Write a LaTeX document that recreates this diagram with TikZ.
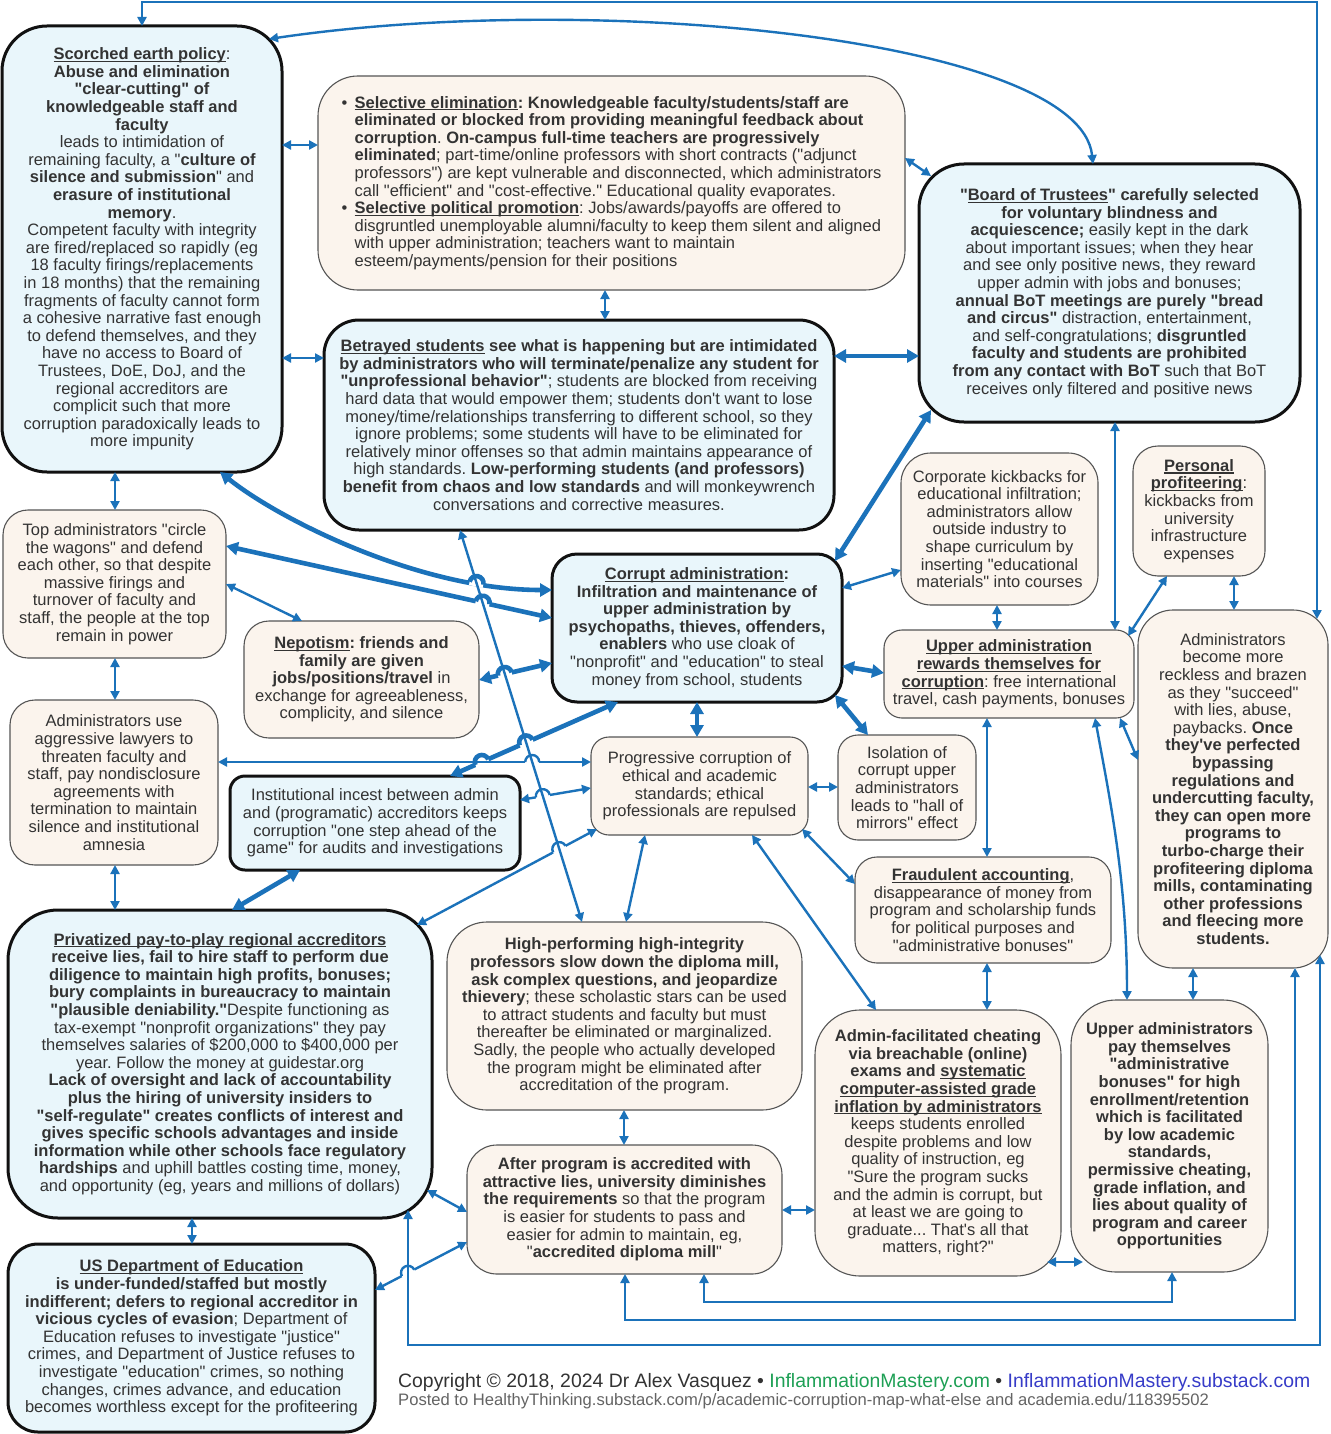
\documentclass[tikz,border=0pt]{standalone}
\usepackage{fontspec}
\setmainfont{Liberation Sans}[Ligatures=TeXOff]
\usetikzlibrary{arrows.meta,calc,intersections}
\frenchspacing
\definecolor{bluefill}{RGB}{233,246,251}
\definecolor{peachfill}{RGB}{251,244,237}
\definecolor{bordk}{RGB}{17,17,17}
\definecolor{bordg}{RGB}{85,85,85}
\definecolor{txtcol}{RGB}{51,51,51}
\definecolor{arrowc}{RGB}{27,114,186}
\definecolor{greenc}{RGB}{30,160,85}
\definecolor{bluec}{RGB}{55,60,200}
\definecolor{graytwo}{RGB}{100,100,100}
\newcommand\uln[1]{\setbox0=\hbox{#1}\rlap{\rule[-2.3pt]{\wd0}{1.2pt}}\box0\relax}
% hop helpers: #1 point, #2 angle of crossing line, #3 line width, #4 white width
\newcommand\hoppatch[4]{\draw[white, line width=#4] ($(#1)+(#2+180:7)$) -- ($(#1)+(#2:7)$);}
\newcommand\hoparc[3]{\draw[arrowc, line width=#3] ($(#1)+(#2+180:7)$) arc[start angle=#2+180, delta angle=180, radius=7];}
\begin{document}
\frenchspacing
\begin{tikzpicture}[x=1pt,y=-1pt,
  base/.style={text=txtcol, font=\fontsize{16.5}{17.6}\selectfont\frenchspacing, align=center, inner sep=0pt, outer sep=0pt},
  bbox/.style={base, fill=bluefill, draw=bordk, line width=3pt},
  pbox/.style={base, fill=peachfill, draw=bordg, line width=1.1pt},
  con/.style={draw=arrowc, line width=2.4pt, >={Triangle[length=9pt,width=9pt]}, <->},
  thk/.style={draw=arrowc, line width=4.6pt, >={Triangle[length=12pt,width=13pt]}, <->},
  sz/.style 2 args={minimum width=#1pt, minimum height=#2pt}
]
\useasboundingbox (0,0) rectangle (1330,1434);
\fill[white] (0,0) rectangle (1330,1434);

% ---------------- nodes ----------------
\node[bbox, rounded corners=45pt, sz={280}{446}] (SE) at (142,249) {%
\textbf{\uln{Scorched earth policy}}:\\
\textbf{Abuse and elimination}\\
\textbf{"clear-cutting" of}\\
\textbf{knowledgeable staff and}\\
\textbf{faculty}\\
leads to intimidation of\\
remaining faculty, a "\textbf{culture of}\\
\textbf{silence and submission}" and\\
\textbf{erasure of institutional}\\
\textbf{memory}.\\
Competent faculty with integrity\\
are fired/replaced so rapidly (eg\\
18 faculty firings/replacements\\
in 18 months) that the remaining\\
fragments of faculty cannot form\\
a cohesive narrative fast enough\\
to defend themselves, and they\\
have no access to Board of\\
Trustees, DoE, DoJ, and the\\
regional accreditors are\\
complicit such that more\\
corruption paradoxically leads to\\
more impunity};

\node[pbox, rounded corners=40pt, sz={587}{214}, align=left] (SEL) at (611.5,183) {%
\makebox[13pt][l]{\textbullet}\textbf{\uln{Selective elimination}: Knowledgeable faculty/students/staff are}\\
\hspace*{13pt}\textbf{eliminated or blocked from providing meaningful feedback about}\\
\hspace*{13pt}\textbf{corruption}. \textbf{On-campus full-time teachers are progressively}\\
\hspace*{13pt}\textbf{eliminated}; part-time/online professors with short contracts ("adjunct\\
\hspace*{13pt}professors") are kept vulnerable and disconnected, which administrators\\
\hspace*{13pt}call "efficient" and "cost-effective." Educational quality evaporates.\\
\makebox[13pt][l]{\textbullet}\textbf{\uln{Selective political promotion}}: Jobs/awards/payoffs are offered to\\
\hspace*{13pt}disgruntled unemployable alumni/faculty to keep them silent and aligned\\
\hspace*{13pt}with upper administration; teachers want to maintain\\
\hspace*{13pt}esteem/payments/pension for their positions};

\node[bbox, rounded corners=45pt, sz={381}{258}] (BOT) at (1109.5,293) {%
\textbf{"\uln{Board of Trustees}" carefully selected}\\
\textbf{for voluntary blindness and}\\
\textbf{acquiescence;} easily kept in the dark\\
about important issues; when they hear\\
and see only positive news, they reward\\
upper admin with jobs and bonuses;\\
\textbf{annual BoT meetings are purely "bread}\\
\textbf{and circus"} distraction, entertainment,\\
and self-congratulations; \textbf{disgruntled}\\
\textbf{faculty and students are prohibited}\\
\textbf{from any contact with BoT} such that BoT\\
receives only filtered and positive news};

\node[bbox, rounded corners=35pt, sz={510}{210}] (BET) at (579,425) {%
\textbf{\uln{Betrayed students} see what is happening but are intimidated}\\
\textbf{by administrators who will terminate/penalize any student for}\\
\textbf{"unprofessional behavior"}; students are blocked from receiving\\
hard data that would empower them; students don't want to lose\\
money/time/relationships transferring to different school, so they\\
ignore problems; some students will have to be eliminated for\\
relatively minor offenses so that admin maintains appearance of\\
high standards. \textbf{Low-performing students (and professors)}\\
\textbf{benefit from chaos and low standards} and will monkeywrench\\
conversations and corrective measures.};

\node[pbox, rounded corners=30pt, sz={197}{152}] (CORP) at (999.5,529) {%
Corporate kickbacks for\\
educational infiltration;\\
administrators allow\\
outside industry to\\
shape curriculum by\\
inserting "educational\\
materials" into courses};

\node[pbox, rounded corners=25pt, sz={132}{130}] (PERS) at (1199,511) {%
\textbf{\uln{Personal}}\\
\textbf{\uln{profiteering}}:\\
kickbacks from\\
university\\
infrastructure\\
expenses};

\node[pbox, rounded corners=25pt, sz={223}{148}] (TOP) at (114.5,584) {%
Top administrators "circle\\
the wagons" and defend\\
each other, so that despite\\
massive firings and\\
turnover of faculty and\\
staff, the people at the top\\
remain in power};

\node[pbox, rounded corners=25pt, sz={235}{117}] (NEP) at (361.5,679.5) {%
\textbf{\uln{Nepotism}: friends and}\\
\textbf{family are given}\\
\textbf{jobs/positions/travel} in\\
exchange for agreeableness,\\
complicity, and silence};

\node[bbox, rounded corners=25pt, sz={290}{148}] (CA) at (697,628) {%
\textbf{\uln{Corrupt administration}:}\\
\textbf{Infiltration and maintenance of}\\
\textbf{upper administration by}\\
\textbf{psychopaths, thieves, offenders,}\\
\textbf{enablers} who use cloak of\\
"nonprofit" and "education" to steal\\
money from school, students};

\node[pbox, rounded corners=18pt, sz={250}{88}] (UAR) at (1009,674) {%
\textbf{\uln{Upper administration}}\\
\textbf{\uln{rewards themselves for}}\\
\textbf{\uln{corruption}}: free international\\
travel, cash payments, bonuses};

\node[pbox, rounded corners=35pt, sz={190}{358}] (REC) at (1233,789) {%
Administrators\\
become more\\
reckless and brazen\\
as they "succeed"\\
with lies, abuse,\\
paybacks. \textbf{Once}\\
\textbf{they've perfected}\\
\textbf{bypassing}\\
\textbf{regulations and}\\
\textbf{undercutting faculty,}\\
\textbf{they can open more}\\
\textbf{programs to}\\
\textbf{turbo-charge their}\\
\textbf{profiteering diploma}\\
\textbf{mills, contaminating}\\
\textbf{other professions}\\
\textbf{and fleecing more}\\
\textbf{students.}};

\node[pbox, rounded corners=25pt, sz={208}{165}] (LAW) at (114,782.5) {%
Administrators use\\
aggressive lawyers to\\
threaten faculty and\\
staff, pay nondisclosure\\
agreements with\\
termination to maintain\\
silence and institutional\\
amnesia};

\node[bbox, rounded corners=15pt, sz={290}{94}] (INC) at (375,823) {%
Institutional incest between admin\\
and (programatic) accreditors keeps\\
corruption "one step ahead of the\\
game" for audits and investigations};

\node[pbox, rounded corners=18pt, sz={217}{98}] (PROG) at (699.5,786) {%
Progressive corruption of\\
ethical and academic\\
standards; ethical\\
professionals are repulsed};

\node[pbox, rounded corners=20pt, sz={138}{105}] (ISO) at (907,787.5) {%
Isolation of\\
corrupt upper\\
administrators\\
leads to "hall of\\
mirrors" effect};

\node[pbox, rounded corners=22pt, sz={256}{106}] (FRAUD) at (983,910) {%
\textbf{\uln{Fraudulent accounting}},\\
disappearance of money from\\
program and scholarship funds\\
for political purposes and\\
"administrative bonuses"};

\node[bbox, rounded corners=50pt, sz={424}{308}] (PRIV) at (220,1064) {%
\textbf{\uln{Privatized pay-to-play regional accreditors}}\\
\textbf{receive lies, fail to hire staff to perform due}\\
\textbf{diligence to maintain high profits, bonuses;}\\
\textbf{bury complaints in bureaucracy to maintain}\\
\textbf{"plausible deniability."}Despite functioning as\\
tax-exempt "nonprofit organizations" they pay\\
themselves salaries of \$200,000 to \$400,000 per\\
year. Follow the money at guidestar.org\\
\textbf{Lack of oversight and lack of accountability}\\
\textbf{plus the hiring of university insiders to}\\
\textbf{"self-regulate" creates conflicts of interest and}\\
\textbf{gives specific schools advantages and inside}\\
\textbf{information while other schools face regulatory}\\
\textbf{hardships} and uphill battles costing time, money,\\
and opportunity (eg, years and millions of dollars)};

\node[pbox, rounded corners=40pt, sz={355}{188}] (HIGH) at (624.5,1016) {%
\textbf{High-performing high-integrity}\\
\textbf{professors slow down the diploma mill,}\\
\textbf{ask complex questions, and jeopardize}\\
\textbf{thievery}; these scholastic stars can be used\\
to attract students and faculty but must\\
thereafter be eliminated or marginalized.\\
Sadly, the people who actually developed\\
the program might be eliminated after\\
accreditation of the program.};

\node[pbox, rounded corners=45pt, sz={246}{266}] (CHEAT) at (938,1143) {%
\textbf{Admin-facilitated cheating}\\
\textbf{via breachable (online)}\\
\textbf{exams and \uln{systematic}}\\
\textbf{\uln{computer-assisted grade}}\\
\textbf{\uln{inflation by administrators}}\\
keeps students enrolled\\
despite problems and low\\
quality of instruction, eg\\
"Sure the program sucks\\
and the admin is corrupt, but\\
at least we are going to\\
graduate... That's all that\\
matters, right?"};

\node[pbox, rounded corners=45pt, sz={197}{272}] (PAY) at (1169.5,1136) {%
\textbf{Upper administrators}\\
\textbf{pay themselves}\\
\textbf{"administrative}\\
\textbf{bonuses" for high}\\
\textbf{enrollment/retention}\\
\textbf{which is facilitated}\\
\textbf{by low academic}\\
\textbf{standards,}\\
\textbf{permissive cheating,}\\
\textbf{grade inflation, and}\\
\textbf{lies about quality of}\\
\textbf{program and career}\\
\textbf{opportunities}};

\node[pbox, rounded corners=30pt, sz={315}{129}] (AFTER) at (624.5,1209.5) {%
\textbf{After program is accredited with}\\
\textbf{attractive lies, university diminishes}\\
\textbf{the requirements} so that the program\\
is easier for students to pass and\\
easier for admin to maintain, eg,\\
"\textbf{accredited diploma mill}"};

\node[bbox, rounded corners=30pt, sz={367}{188}] (DOE) at (191.5,1338) {%
\textbf{\uln{US Department of Education}}\\
\textbf{is under-funded/staffed but mostly}\\
\textbf{indifferent; defers to regional accreditor in}\\
\textbf{vicious cycles of evasion}; Department of\\
Education refuses to investigate "justice"\\
crimes, and Department of Justice refuses to\\
investigate "education" crimes, so nothing\\
changes, crimes advance, and education\\
becomes worthless except for the profiteering};

\node[anchor=base west, inner sep=0pt, text=txtcol, font=\fontsize{19.4}{22}\selectfont] (copy) at (398,1387)
 {Copyright © 2018, 2024 Dr Alex Vasquez • \textcolor{greenc}{InflammationMastery.com} • \textcolor{bluec}{InflammationMastery.substack.com}};
\node[anchor=base west, inner sep=0pt, text=graytwo, font=\fontsize{16.6}{19}\selectfont] (posted) at (398,1405)
 {Posted to HealthyThinking.substack.com/p/academic-corruption-map-what-else and academia.edu/118395502};

% ---------------- connectors ----------------
% loops
\draw[con] (142,0 |- SE.north) |- (1317,2) -- ([shift={(-11,9)}]REC.north east);
\draw[con] ([shift={(-13,13)}]SE.north east) .. controls (600,-10) and (1080,40) .. (1093,0 |- BOT.north);
\draw[con] (704,0 |- AFTER.south) |- (1172,1302) -- (1172,0 |- PAY.south);
\draw[con] (625,0 |- AFTER.south) |- (1295,1320) -- (1295,0 |- REC.south);

% top area
\draw[con] (SE.east |- 0,145) -- (SEL.west |- 0,145);
\draw[con] (SE.east |- 0,358) -- (BET.west |- 0,358);
\draw[con] (605,0 |- SEL.south) -- (605,0 |- BET.north);
\draw[con] (SEL.east |- 0,158) -- ([shift={(12,12)}]BOT.north west);
\draw[thk] (BET.east |- 0,356) -- (BOT.west |- 0,356);
\draw[thk] ([shift={(12,-12)}]BOT.south west) -- ([shift={(-7,7)}]CA.north east);
\draw[con] (1115,0 |- BOT.south) -- (1115,0 |- UAR.north);

% left column
\draw[con] (115,0 |- SE.south) -- (115,0 |- TOP.north);
\draw[con] (115,0 |- TOP.south) -- (115,0 |- LAW.north);
\draw[con] (115,0 |- LAW.south) -- (115,0 |- PRIV.north);
\draw[con] (192,0 |- PRIV.south) -- (192,0 |- DOE.north);

% around corrupt administration
\draw[con] (TOP.east |- 0,584) -- (302,0 |- NEP.north);
\draw[thk] (CA.east |- 0,666) -- (UAR.west |- 0,673);
\draw[con] (CA.east |- 0,588) -- (CORP.west |- 0,570);
\draw[thk] (697,0 |- CA.south) -- (697,0 |- PROG.north);
\draw[thk] ([shift={(-7,-7)}]CA.south east) -- (868,0 |- ISO.north);
\draw[thk] (300,0 |- INC.south) -- (232,0 |- PRIV.north);

% middle
\draw[con] (PROG.east |- 0,787) -- (ISO.west |- 0,787);
\draw[con] (645,0 |- PROG.south) -- (626,0 |- HIGH.north);
\draw[con] (752,0 |- PROG.south) -- (876,0 |- CHEAT.north);
\draw[con] ([shift={(-6,-6)}]PROG.south east) -- (FRAUD.west |- 0,884);

% right side
\draw[con] (987,0 |- UAR.south) -- (987,0 |- FRAUD.north);
\draw[con] (997,0 |- CORP.south) -- (997,0 |- UAR.north);
\draw[con] ([shift={(-6,6)}]UAR.north east) -- (1167,0 |- PERS.south);
\draw[con] (1234,0 |- PERS.south) -- (1234,0 |- REC.north);
\draw[con] ([shift={(-14,0)}]UAR.south east) -- (REC.west |- 0,760);
\draw[con] (1095,0 |- UAR.south) .. controls (1110,800) and (1127,880) .. (1127,0 |- PAY.north);
\draw[con] (987,0 |- FRAUD.south) -- (987,0 |- CHEAT.north);
\draw[con] (1193,0 |- REC.south) -- (1193,0 |- PAY.north);
\draw[con] ([shift={(-14,-14)}]CHEAT.south east) -- ([shift={(12,-10)}]PAY.south west);

% bottom
\draw[con] (624,0 |- HIGH.south) -- (624,0 |- AFTER.north);
\draw[con] (AFTER.east |- 0,1210) -- (CHEAT.west |- 0,1210);
\draw[con] ([shift={(-5,-28)}]PRIV.south east) -- (AFTER.west |- 0,1212);

% ---- lines that hop over others ----
\path[name path=aa] (460,0 |- BET.south) -- (582,0 |- HIGH.north);
\path[name path=lthree] ([shift={(-24,-8)}]PRIV.south east) |- (1320,1345) -- ([shift={(-8,-13)}]REC.south east);
\draw[thk, name path=sc] (220,0 |- SE.south) .. controls (280,520) and (420,590) .. (CA.west |- 0,590);
\draw[thk, name path=tc] (TOP.east |- 0,546) -- (CA.west |- 0,618);
\draw[thk, name path=nc] (NEP.east |- 0,680) -- (CA.west |- 0,663);
\draw[thk, name path=ci] (618,0 |- CA.south) -- (450,0 |- INC.north);
\draw[con, name path=lp] (LAW.east |- 0,762) -- (PROG.west |- 0,762);
\draw[con, name path=ip] (INC.east |- 0,800) -- (PROG.west |- 0,788);
\draw[con, name path=pp] ([shift={(6,-6)}]PROG.south west) -- ([shift={(-15,15)}]PRIV.north east);
\draw[con, name path=da] (DOE.east |- 0,1290) -- (AFTER.west |- 0,1242);

\path[name intersections={of=aa and sc, by=hA}];
\path[name intersections={of=aa and tc, by=hB}];
\path[name intersections={of=aa and nc, by=hC}];
\path[name intersections={of=aa and ci, by=hD}];
\path[name intersections={of=lp and ci, by=hE}];
\path[name intersections={of=aa and lp, by=hF}];
\path[name intersections={of=aa and ip, by=hG}];
\path[name intersections={of=aa and pp, by=hH}];
\path[name intersections={of=lthree and da, by=hI}];

\hoppatch{hA}{12}{4.6pt}{7pt}
\hoppatch{hB}{12.6}{4.6pt}{7pt}
\hoppatch{hC}{-13.8}{4.6pt}{7pt}
\hoppatch{hD}{-23.8}{4.6pt}{7pt}
\hoppatch{hE}{-23.8}{4.6pt}{7pt}
\hoppatch{hF}{0}{2.4pt}{4.5pt}
\hoppatch{hG}{-9.9}{2.4pt}{4.5pt}
\hoppatch{hH}{-28}{2.4pt}{4.5pt}
\hoppatch{hI}{-27.8}{2.4pt}{4.5pt}

% the lines that are hopped over, drawn on top of the patches
\draw[con] (460,0 |- BET.south) -- (582,0 |- HIGH.north);
\draw[con] ([shift={(-24,-8)}]PRIV.south east) |- (1320,1345) -- ([shift={(-8,-13)}]REC.south east);
\draw[arrowc, line width=2.4pt] ($(hE)+(-13,0)$) -- ($(hE)+(13,0)$);

\hoparc{hA}{12}{4.6pt}
\hoparc{hB}{12.6}{4.6pt}
\hoparc{hC}{-13.8}{4.6pt}
\hoparc{hD}{-23.8}{4.6pt}
\hoparc{hE}{-23.8}{4.6pt}
\hoparc{hF}{0}{2.4pt}
\hoparc{hG}{-9.9}{2.4pt}
\hoparc{hH}{-28}{2.4pt}
\hoparc{hI}{-27.8}{2.4pt}
\end{tikzpicture}
\end{document}
